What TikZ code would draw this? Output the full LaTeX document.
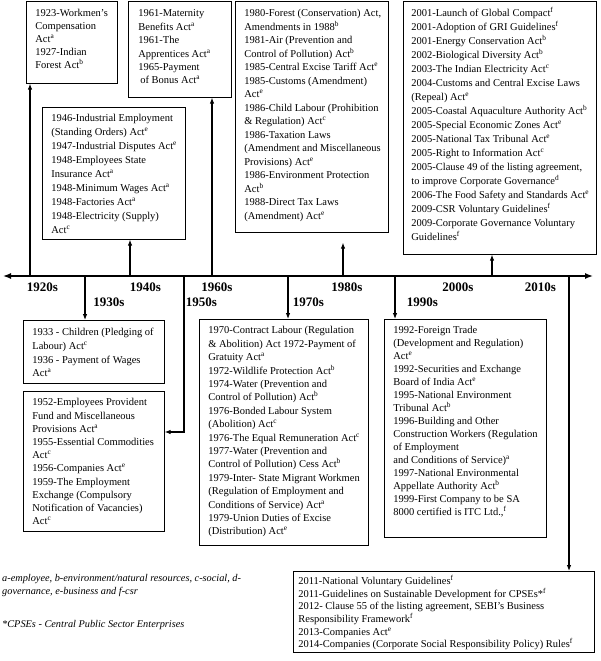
\documentclass[tikz,border=0pt]{standalone}
\usepackage{fontspec}
\setmainfont{Liberation Serif}
\usetikzlibrary{arrows.meta}
\newcommand\sx[1]{\textsuperscript{#1}}
% #1 width, #2 height, #3 left pad, #4 first baseline offset, #5 baselineskip, #6 lines
\newcommand\tb[6]{\parbox[c][#2pt][t]{#1pt}{\fontsize{10.5pt}{#5pt}\selectfont\vspace*{\dimexpr #4pt-0.7\baselineskip\relax}\hspace*{#3pt}\begin{tabular}[t]{@{}l@{}}#6\end{tabular}}}
\tikzset{
  actbox/.style={draw, line width=0.7pt, inner sep=0pt, anchor=north west},
  decade/.style={inner sep=0pt, font=\fontsize{13}{15}\selectfont\bfseries},
  conn/.style={line width=1.1pt, -{Latex[length=6pt,width=4.6pt]}},
  tline/.style={line width=1.4pt, {Latex[length=8pt,width=6pt]}-{Latex[length=8pt,width=6pt]}},
  legend/.style={inner sep=0pt, anchor=base west, align=left, font=\fontsize{10.3}{13}\selectfont\itshape},
}
\begin{document}
\begin{tikzpicture}[x=1pt,y=-1pt]
\useasboundingbox (0,0) rectangle (601,661);

% upper boxes
\node[actbox] (b1920) at (26,1) {\tb{91}{82}{9}{15.5}{12.8}{%
1923-Workmen’s\\ Compensation\\ Act\sx{a}\\ 1927-Indian\\ Forest Act\sx{b}}};
\node[actbox] (b1960) at (128,1) {\tb{103}{96}{10}{15.5}{13.4}{%
1961-Maternity\\ Benefits Act\sx{a}\\ 1961-The\\ Apprentices Act\sx{a}\\ 1965-Payment\\ \hspace{2pt}of Bonus Act\sx{a}}};
\node[actbox] (b1980) at (235,1) {\tb{153}{231}{9}{15.5}{13.5}{%
1980-Forest (Conservation) Act,\\ Amendments in 1988\sx{b}\\ 1981-Air (Prevention and\\ Control of Pollution) Act\sx{b}\\
1985-Central Excise Tariff Act\sx{e}\\ 1985-Customs (Amendment)\\ Act\sx{e}\\ 1986-Child Labour (Prohibition\\
\& Regulation) Act\sx{c}\\ 1986-Taxation Laws\\ (Amendment and Miscellaneous\\ Provisions) Act\sx{e}\\
1986-Environment Protection\\ Act\sx{b}\\ 1988-Direct Tax Laws\\ (Amendment) Act\sx{e}}};
\node[actbox] (b2000) at (403,1) {\tb{193}{253}{8}{15.5}{14}{%
2001-Launch of Global Compact\sx{f}\\ 2001-Adoption of GRI Guidelines\sx{f}\\ 2001-Energy Conservation Act\sx{b}\\
2002-Biological Diversity Act\sx{b}\\ 2003-The Indian Electricity Act\sx{c}\\ 2004-Customs and Central Excise Laws\\
(Repeal) Act\sx{e}\\ 2005-Coastal Aquaculture Authority Act\sx{b}\\ 2005-Special Economic Zones Act\sx{e}\\
2005-National Tax Tribunal Act\sx{e}\\ 2005-Right to Information Act\sx{c}\\ 2005-Clause 49 of the listing agreement,\\
to improve Corporate Governance\sx{d}\\ 2006-The Food Safety and Standards Act\sx{e}\\ 2009-CSR Voluntary Guidelines\sx{f}\\
2009-Corporate Governance Voluntary\\ Guidelines\sx{f}}};
\node[actbox] (b1940) at (42,107) {\tb{143}{132}{9}{14.5}{13.9}{%
1946-Industrial Employment\\ (Standing Orders) Act\sx{e}\\ 1947-Industrial Disputes Act\sx{e}\\ 1948-Employees State\\
Insurance Act\sx{a}\\ 1948-Minimum Wages Act\sx{a}\\ 1948-Factories Act\sx{a}\\ 1948-Electricity (Supply)\\ Act\sx{c}}};

% lower boxes
\node[actbox] (b1930) at (23,320) {\tb{141}{63}{9}{15.5}{13.7}{%
1933 - Children (Pledging of\\ Labour) Act\sx{c}\\ 1936 - Payment of Wages\\ Act\sx{a}}};
\node[actbox] (b1950) at (23,391) {\tb{141}{140}{9}{14.5}{13.2}{%
1952-Employees Provident\\ Fund and Miscellaneous\\ Provisions Act\sx{a}\\ 1955-Essential Commodities\\ Act\sx{c}\\
1956-Companies Act\sx{e}\\ 1959-The Employment\\ Exchange (Compulsory\\ Notification of Vacancies)\\ Act\sx{c}}};
\node[actbox] (b1970) at (199,319) {\tb{169}{226}{9}{14.5}{13.4}{%
1970-Contract Labour (Regulation\\ \& Abolition) Act 1972-Payment of\\ Gratuity Act\sx{a}\\ 1972-Wildlife Protection Act\sx{b}\\
1974-Water (Prevention and\\ Control of Pollution) Act\sx{b}\\ 1976-Bonded Labour System\\ (Abolition) Act\sx{c}\\
1976-The Equal Remuneration Act\sx{c}\\ 1977-Water (Prevention and\\ Control of Pollution) Cess Act\sx{b}\\
1979-Inter- State Migrant Workmen\\ (Regulation of Employment and\\ Conditions of Service) Act\sx{a}\\
1979-Union Duties of Excise\\ (Distribution) Act\sx{e}}};
\node[actbox] (b1990) at (384,319) {\tb{162}{218}{9}{14.5}{13.0}{%
1992-Foreign Trade\\ (Development and Regulation)\\ Act\sx{e}\\ 1992-Securities and Exchange\\ Board of India Act\sx{e}\\
1995-National Environment\\ Tribunal Act\sx{b}\\ 1996-Building and Other\\ Construction Workers (Regulation\\
of Employment\\ and Conditions of Service)\sx{a}\\ 1997-National Environmental\\ Appellate Authority Act\sx{b}\\
1999-First Company to be SA\\ 8000 certified is ITC Ltd.,\sx{f}}};
\node[actbox] (b2010) at (293,571) {\tb{301}{81}{5}{12.5}{12.5}{%
2011-National Voluntary Guidelines\sx{f}\\ 2011-Guidelines on Sustainable Development for CPSEs*\sx{f}\\
2012- Clause 55 of the listing agreement, SEBI’s Business\\ Responsibility Framework\sx{f}\\ 2013-Companies Act\sx{e}\\
2014-Companies (Corporate Social Responsibility Policy) Rules\sx{f}}};

% timeline
\coordinate (tlL) at (3,276);
\coordinate (tlR) at (593,276);
\draw[tline] (tlL) -- (tlR);
\coordinate (t1920) at (30,276);
\coordinate (t1930) at (85,276);
\coordinate (t1940) at (130,276);
\coordinate (t1950) at (184,276);
\coordinate (t1960) at (212,276);
\coordinate (t1970) at (288,276);
\coordinate (t1980) at (343,276);
\coordinate (t1990) at (395,276);
\coordinate (t2000) at (492,276);
\coordinate (t2010) at (569,276);

\draw[conn] (t1920) -- (t1920 |- b1920.south);
\draw[conn] (t1930) -- (t1930 |- b1930.north);
\draw[conn] (t1940) -- (t1940 |- b1940.south);
\draw[conn] (t1950) |- (b1950.east |- 0,432);
\draw[conn] (t1960) -- (t1960 |- b1960.south);
\draw[conn] (t1970) -- (t1970 |- b1970.north);
\draw[conn, shorten >=10pt] (t1980) -- (t1980 |- b1980.south);
\draw[conn] (t1990) -- (t1990 |- b1990.north);
\draw[conn] (t2000) -- (t2000 |- b2000.south);
\draw[conn] (t2010) -- (t2010 |- b2010.north);

% decade labels
\node[decade] (l1920) at (42.5,287) {1920s};
\node[decade] (l1930) at (109,302) {1930s};
\node[decade] (l1940) at (145.5,287) {1940s};
\node[decade] (l1950) at (201.5,302) {1950s};
\node[decade] (l1960) at (217,287) {1960s};
\node[decade] (l1970) at (308.5,302) {1970s};
\node[decade] (l1980) at (347,287) {1980s};
\node[decade] (l1990) at (422.5,302) {1990s};
\node[decade] (l2000) at (458,287) {2000s};
\node[decade] (l2010) at (540.5,287) {2010s};

% legend
\node[legend] (leg1) at (2,594) {a-employee, b-environment/natural resources, c-social, d-\\governance, e-business and f-csr};
\node[legend] (leg2) at (2,627) {*CPSEs - Central Public Sector Enterprises};
\end{tikzpicture}
\end{document}
